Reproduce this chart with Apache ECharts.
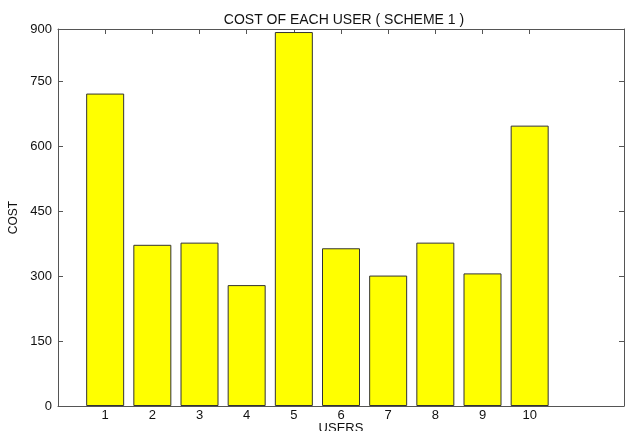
<!DOCTYPE html>
<html>
<head>
<meta charset="utf-8">
<script src="https://cdn.jsdelivr.net/npm/echarts@6/dist/echarts.min.js"></script>
<style>html,body{margin:0;padding:0;background:#fff}#c{width:625px;height:431px}</style>
</head>
<body>
<div id="c"></div>
<script>
var users = [1, 2, 3, 4, 5, 6, 7, 8, 9, 10];
var cost = [721, 372, 377, 279, 863, 364, 301, 377, 306, 647];
var yTickValues = [0, 150, 300, 450, 600, 750, 870];
var yTickLabels = ['0', '150', '300', '450', '600', '750', '900'];
var X_MIN = 0, X_MAX = 12, Y_MIN = 0, Y_MAX = 870;

var FONT = 'Liberation Sans';
var AX = '#555';
var TXT = '#111';
var chart = echarts.init(document.getElementById('c'), null, {renderer: 'canvas'});
function yFmt(v) {
  var i = yTickValues.indexOf(v);
  return i >= 0 ? yTickLabels[i] : '';
}
chart.setOption({
  animation: false,
  backgroundColor: '#fff',
  title: {
    text: 'COST OF EACH USER ( SCHEME 1 )',
    left: 339, top: 8, textAlign: 'center',
    textStyle: {fontFamily: FONT, fontSize: 14, fontWeight: 'normal', color: TXT}
  },
  grid: {left: 58, right: 1, top: 29, bottom: 25, containLabel: false, outerBoundsMode: 'none'},
  xAxis: [{
    type: 'value', min: X_MIN, max: X_MAX, position: 'bottom',
    name: 'USERS', nameLocation: 'middle', nameGap: 16, nameMoveOverlap: false,
    nameTextStyle: {fontFamily: FONT, fontSize: 13, color: TXT},
    axisLine: {show: true, lineStyle: {color: AX}},
    axisTick: {show: true, inside: true, length: 5, customValues: users, lineStyle: {color: AX}},
    axisLabel: {customValues: users, fontFamily: FONT, fontSize: 13, color: TXT, margin: 3},
    splitLine: {show: false}
  }, {
    type: 'value', min: X_MIN, max: X_MAX, position: 'top',
    axisLine: {show: true, onZero: false, lineStyle: {color: AX}},
    axisTick: {show: true, inside: true, length: 5, customValues: users, lineStyle: {color: AX}},
    axisLabel: {show: false},
    splitLine: {show: false}
  }],
  yAxis: [{
    type: 'value', min: Y_MIN, max: Y_MAX, position: 'left',
    name: 'COST', nameLocation: 'middle', nameGap: 38, nameRotate: 90, nameMoveOverlap: false,
    nameTextStyle: {fontFamily: FONT, fontSize: 12, color: TXT},
    axisLine: {show: true, lineStyle: {color: AX}},
    axisTick: {show: true, inside: true, length: 5, customValues: yTickValues, lineStyle: {color: AX}},
    axisLabel: {customValues: yTickValues, formatter: yFmt, fontFamily: FONT, fontSize: 13, color: TXT, margin: 6},
    splitLine: {show: false}
  }, {
    type: 'value', min: Y_MIN, max: Y_MAX, position: 'right',
    axisLine: {show: true, onZero: false, lineStyle: {color: AX}},
    axisTick: {show: true, inside: true, length: 5, customValues: yTickValues, lineStyle: {color: AX}},
    axisLabel: {show: false},
    splitLine: {show: false}
  }],
  series: [{
    type: 'bar',
    xAxisIndex: 0, yAxisIndex: 0,
    data: users.map(function (u, i) { return [u, cost[i]]; }),
    barWidth: 38,
    itemStyle: {color: '#ffff00', borderColor: '#333', borderWidth: 1}
  }]
});
</script>
</body>
</html>
